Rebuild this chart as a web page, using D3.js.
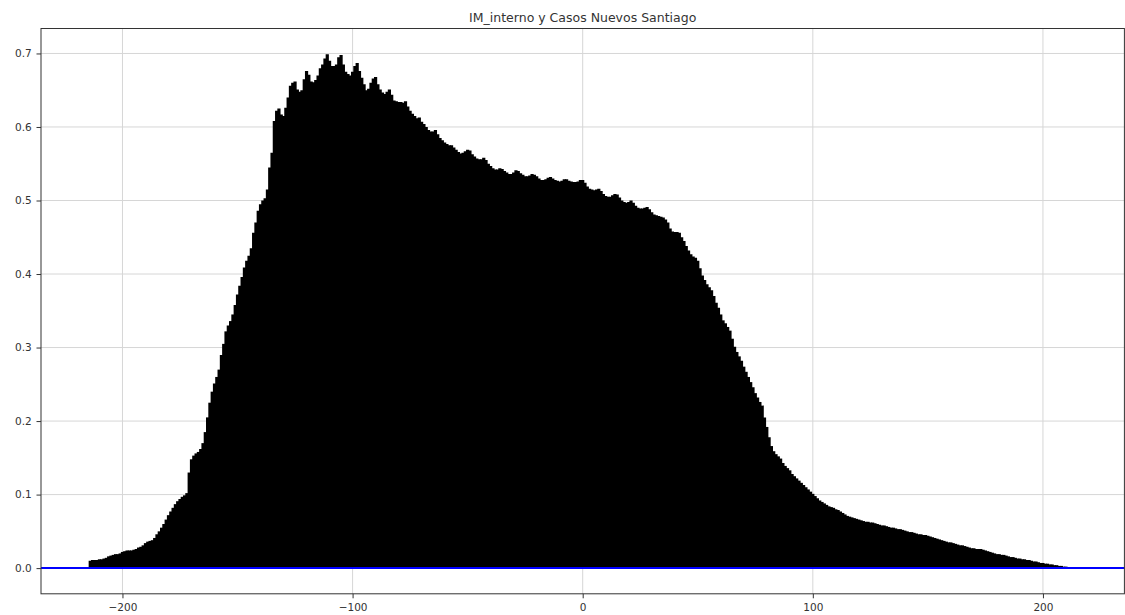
<!DOCTYPE html>
<html>
<head>
<meta charset="utf-8">
<script src="https://cdn.jsdelivr.net/npm/d3@7"></script>
<style>
  html, body { margin: 0; padding: 0; background: #ffffff; }
  svg { display: block; }
  text { font-family: "DejaVu Sans", sans-serif; }
</style>
</head>
<body>
<svg id="chart" width="1125" height="615"></svg>
<script>
// Cross-correlation between IM_interno and new cases in Santiago, lags -214..214
const chartTitle = "IM_interno y Casos Nuevos Santiago";
const lagStart = -214;
const lagEnd = 214;
const xTickValues = [-200, -100, 0, 100, 200];
const yTickValues = [0.0, 0.1, 0.2, 0.3, 0.4, 0.5, 0.6, 0.7];

// correlation coefficient at each lag, in order from lagStart to lagEnd
const corrValues = [
  /* -214 */ 0.010, 0.011, 0.011, 0.011, 0.012, 0.012, 0.013, 0.014, 0.016, 0.017,
  /* -204 */ 0.018, 0.019, 0.019, 0.020, 0.022, 0.023, 0.024, 0.024, 0.024, 0.025,
  /* -194 */ 0.026, 0.028, 0.029, 0.031, 0.034, 0.036, 0.037, 0.038, 0.041, 0.046,
  /* -184 */ 0.050, 0.055, 0.060, 0.066, 0.072, 0.077, 0.082, 0.087, 0.091, 0.094,
  /* -174 */ 0.097, 0.099, 0.102, 0.130, 0.148, 0.153, 0.156, 0.158, 0.162, 0.170,
  /* -164 */ 0.185, 0.205, 0.225, 0.240, 0.251, 0.260, 0.270, 0.290, 0.305, 0.322,
  /* -154 */ 0.330, 0.336, 0.345, 0.358, 0.372, 0.384, 0.396, 0.409, 0.418, 0.425,
  /* -144 */ 0.435, 0.456, 0.470, 0.486, 0.495, 0.500, 0.503, 0.515, 0.545, 0.565,
  /* -134 */ 0.608, 0.622, 0.625, 0.617, 0.615, 0.626, 0.640, 0.656, 0.660, 0.662,
  /* -124 */ 0.651, 0.648, 0.650, 0.665, 0.676, 0.671, 0.662, 0.661, 0.664, 0.670,
  /* -114 */ 0.680, 0.685, 0.693, 0.699, 0.690, 0.683, 0.683, 0.685, 0.695, 0.698,
  /* -104 */ 0.685, 0.675, 0.672, 0.670, 0.675, 0.683, 0.687, 0.676, 0.667, 0.658,
  /*  -94 */ 0.650, 0.652, 0.660, 0.666, 0.668, 0.658, 0.651, 0.647, 0.645, 0.648,
  /*  -84 */ 0.651, 0.644, 0.636, 0.635, 0.634, 0.634, 0.633, 0.635, 0.628, 0.622,
  /*  -74 */ 0.618, 0.615, 0.612, 0.613, 0.607, 0.604, 0.600, 0.596, 0.594, 0.594,
  /*  -64 */ 0.596, 0.590, 0.585, 0.582, 0.579, 0.577, 0.575, 0.575, 0.572, 0.569,
  /*  -54 */ 0.566, 0.564, 0.565, 0.567, 0.569, 0.568, 0.563, 0.560, 0.557, 0.556,
  /*  -44 */ 0.556, 0.558, 0.555, 0.550, 0.547, 0.544, 0.542, 0.542, 0.544, 0.543,
  /*  -34 */ 0.540, 0.538, 0.536, 0.536, 0.538, 0.541, 0.540, 0.537, 0.535, 0.533,
  /*  -24 */ 0.533, 0.534, 0.536, 0.535, 0.533, 0.530, 0.528, 0.528, 0.529, 0.531,
  /*  -14 */ 0.532, 0.530, 0.528, 0.527, 0.526, 0.527, 0.529, 0.529, 0.527, 0.526,
  /*   -4 */ 0.525, 0.525, 0.526, 0.528, 0.528, 0.524, 0.519, 0.516, 0.515, 0.514,
  /*    6 */ 0.515, 0.516, 0.513, 0.509, 0.506, 0.505, 0.505, 0.507, 0.509, 0.508,
  /*   16 */ 0.504, 0.500, 0.498, 0.497, 0.498, 0.500, 0.497, 0.493, 0.490, 0.489,
  /*   26 */ 0.489, 0.490, 0.491, 0.488, 0.484, 0.481, 0.480, 0.479, 0.478, 0.477,
  /*   36 */ 0.474, 0.470, 0.462, 0.458, 0.457, 0.457, 0.456, 0.450, 0.445, 0.438,
  /*   46 */ 0.432, 0.427, 0.424, 0.422, 0.418, 0.408, 0.398, 0.392, 0.386, 0.382,
  /*   56 */ 0.378, 0.370, 0.361, 0.354, 0.345, 0.337, 0.333, 0.328, 0.323, 0.312,
  /*   66 */ 0.301, 0.294, 0.288, 0.282, 0.274, 0.267, 0.260, 0.253, 0.246, 0.238,
  /*   76 */ 0.232, 0.226, 0.221, 0.205, 0.192, 0.178, 0.166, 0.159, 0.155, 0.152,
  /*   86 */ 0.149, 0.143, 0.139, 0.136, 0.133, 0.128, 0.125, 0.122, 0.119, 0.116,
  /*   96 */ 0.113, 0.110, 0.107, 0.104, 0.101, 0.098, 0.095, 0.092, 0.090, 0.088,
  /*  106 */ 0.086, 0.084, 0.083, 0.082, 0.080, 0.079, 0.077, 0.075, 0.073, 0.071,
  /*  116 */ 0.070, 0.069, 0.068, 0.067, 0.066, 0.065, 0.064, 0.063, 0.063, 0.062,
  /*  126 */ 0.062, 0.061, 0.060, 0.059, 0.058, 0.058, 0.057, 0.056, 0.055, 0.055,
  /*  136 */ 0.054, 0.053, 0.053, 0.052, 0.051, 0.050, 0.049, 0.049, 0.048, 0.047,
  /*  146 */ 0.046, 0.046, 0.045, 0.045, 0.044, 0.043, 0.042, 0.041, 0.040, 0.039,
  /*  156 */ 0.038, 0.037, 0.036, 0.035, 0.035, 0.034, 0.033, 0.032, 0.031, 0.031,
  /*  166 */ 0.030, 0.029, 0.028, 0.027, 0.027, 0.026, 0.026, 0.026, 0.025, 0.024,
  /*  176 */ 0.023, 0.022, 0.021, 0.020, 0.019, 0.019, 0.018, 0.018, 0.017, 0.016,
  /*  186 */ 0.015, 0.015, 0.014, 0.013, 0.013, 0.012, 0.012, 0.011, 0.011, 0.010,
  /*  196 */ 0.009, 0.009, 0.008, 0.007, 0.007, 0.006, 0.006, 0.005, 0.005, 0.004,
  /*  206 */ 0.004, 0.003, 0.003, 0.002, 0.002, 0.001, 0.001, 0.000, 0.000
];

const lags = d3.range(lagStart, lagEnd + 1);
const data = lags.map((lag, i) => ({ lag, value: corrValues[i] }));

const svg = d3.select("#chart");
const plot = { left: 41, right: 1124.4, top: 28.5, bottom: 593.8 };

// autoscale with 5% margins on both axes
const xSpan = lagEnd - lagStart;
const x = d3.scaleLinear()
  .domain([lagStart - 0.05 * xSpan, lagEnd + 0.05 * xSpan])
  .range([plot.left, plot.right]);
const yMax = d3.max(corrValues);
const yMin = Math.min(0, d3.min(corrValues));
const yPad = 0.05 * (yMax - yMin);
const y = d3.scaleLinear()
  .domain([yMin - yPad, yMax + yPad])
  .range([plot.bottom, plot.top]);

// grid
const grid = svg.append("g").attr("class", "grid");
grid.selectAll("line.gx").data(xTickValues).join("line")
  .attr("x1", d => x(d)).attr("x2", d => x(d))
  .attr("y1", plot.top).attr("y2", plot.bottom)
  .attr("stroke", "#d6d6d6").attr("stroke-width", 1);
grid.selectAll("line.gy").data(yTickValues).join("line")
  .attr("x1", plot.left).attr("x2", plot.right)
  .attr("y1", d => y(d)).attr("y2", d => y(d))
  .attr("stroke", "#d6d6d6").attr("stroke-width", 1);

// correlation stems (wide enough to merge into a solid area)
svg.append("g").attr("class", "stems")
  .selectAll("line").data(data).join("line")
  .attr("x1", d => x(d.lag)).attr("x2", d => x(d.lag))
  .attr("y1", y(0)).attr("y2", d => y(d.value))
  .attr("stroke", "#000000").attr("stroke-width", 3.2);

// zero reference line
svg.append("line")
  .attr("x1", plot.left).attr("x2", plot.right)
  .attr("y1", y(0)).attr("y2", y(0))
  .attr("stroke", "#0000ff").attr("stroke-width", 2);

// axes
const xAxis = d3.axisBottom(x).tickValues(xTickValues).tickSize(4.5).tickPadding(5.5)
  .tickFormat(d3.format("d"));
const yAxis = d3.axisLeft(y).tickValues(yTickValues).tickSize(4.5).tickPadding(4.8)
  .tickFormat(d3.format(".1f"));

const gx = svg.append("g").attr("transform", `translate(0,${plot.bottom})`).call(xAxis);
const gy = svg.append("g").attr("transform", `translate(${plot.left},0)`).call(yAxis);
[gx, gy].forEach(g => {
  g.select(".domain").remove();
  g.selectAll(".tick line").attr("stroke", "#333").attr("stroke-width", 1);
  g.selectAll(".tick text").attr("fill", "#333").style("font-size", "10.5px")
    .style("font-family", "'DejaVu Sans', sans-serif");
});

// frame
svg.append("rect")
  .attr("x", plot.left).attr("y", plot.top)
  .attr("width", plot.right - plot.left).attr("height", plot.bottom - plot.top)
  .attr("fill", "none").attr("stroke", "#333").attr("stroke-width", 1);

// title
svg.append("text")
  .attr("x", (plot.left + plot.right) / 2).attr("y", 22)
  .attr("text-anchor", "middle")
  .attr("fill", "#333")
  .style("font-size", "12.5px")
  .text(chartTitle);
</script>
</body>
</html>
